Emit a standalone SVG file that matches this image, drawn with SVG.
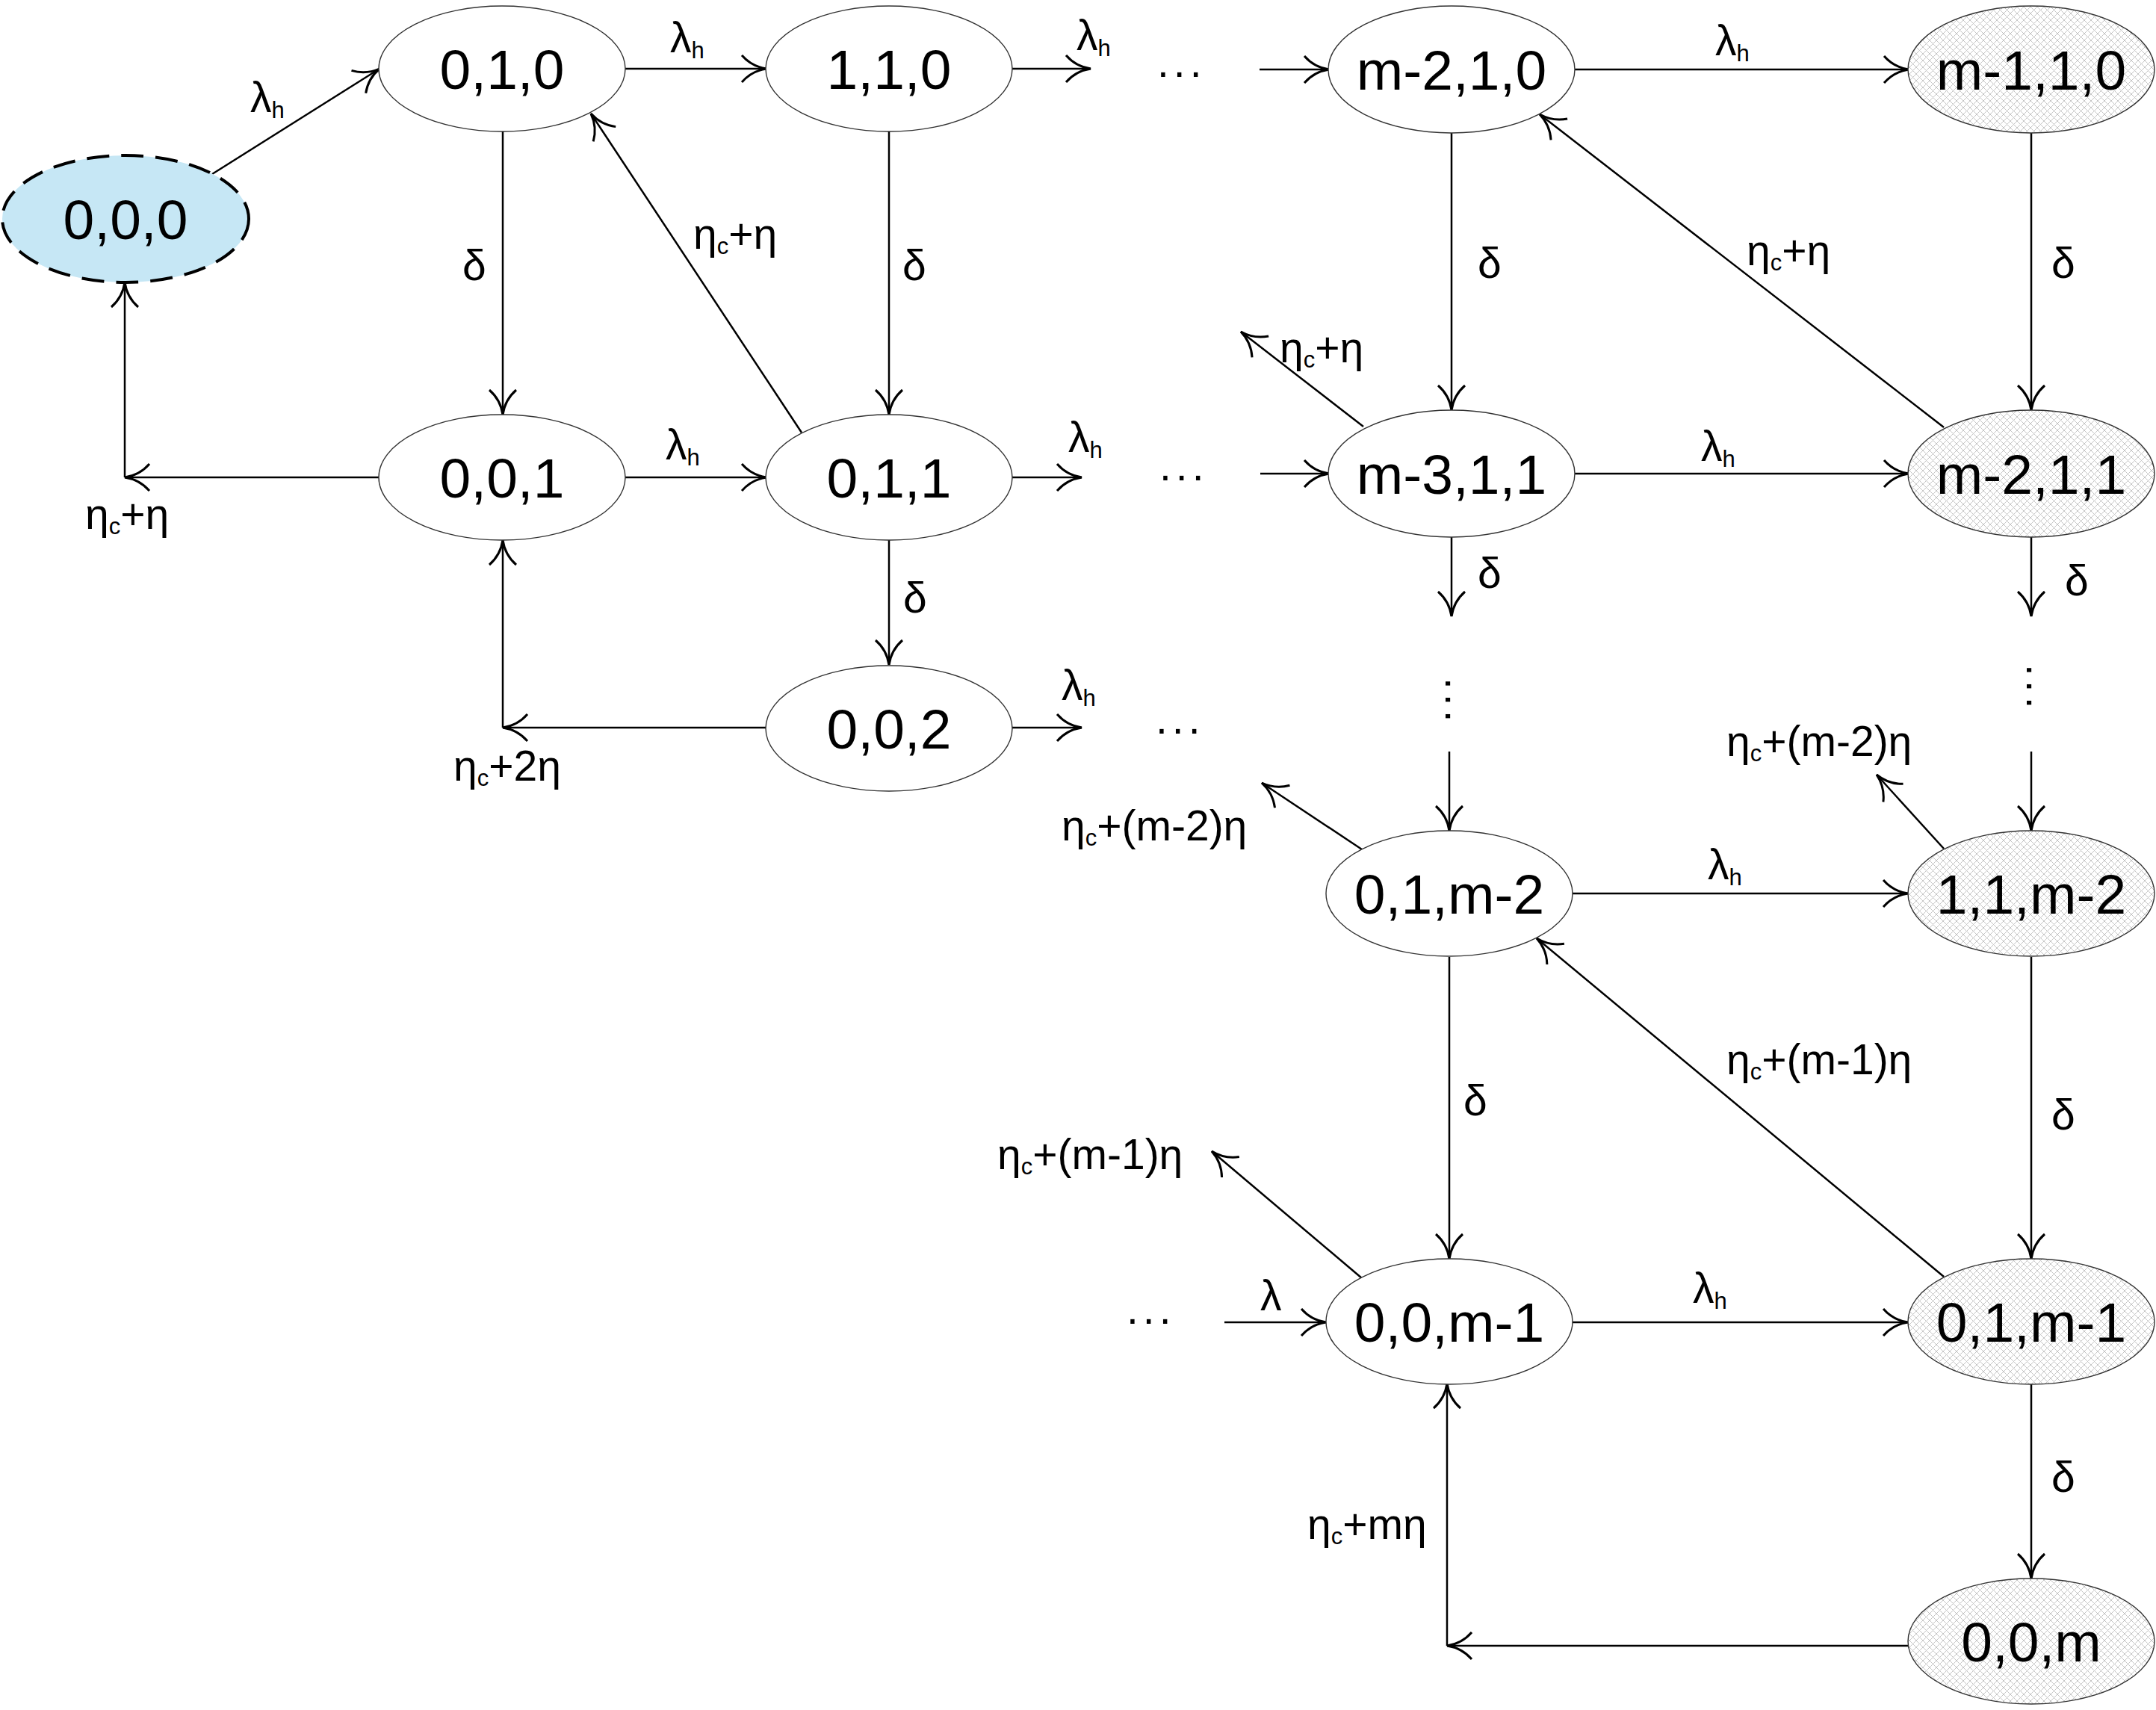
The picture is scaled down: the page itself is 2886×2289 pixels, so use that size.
<svg xmlns="http://www.w3.org/2000/svg" width="2886" height="2289" viewBox="0 0 2886 2289">
<style>
.nd{stroke:#333;stroke-width:1.4}
.w{fill:#fff}
.g{fill:url(#hatch)}
.n{font-family:"Liberation Sans",Arial,sans-serif;font-size:75px;text-anchor:middle;fill:#000}
.l{font-family:"Liberation Sans",Arial,sans-serif;font-size:57px;fill:#000}
.s{font-size:31px}
.d{letter-spacing:6px}
.e{stroke:#000;stroke-width:2.5;fill:none}
.a{marker-end:url(#ah)}
</style>
<defs>
<pattern id="hatch" patternUnits="userSpaceOnUse" width="9" height="9">
<rect width="9" height="9" fill="#fff"/>
<path d="M0,0 L9,9 M9,0 L0,9" stroke="#c4c4c4" stroke-width="1"/>
</pattern>
<marker id="ah" markerUnits="userSpaceOnUse" viewBox="-40 -25 45 50" refX="0" refY="0" markerWidth="45" markerHeight="50" orient="auto" overflow="visible">
<path d="M-33,-18 Q-20,-3 0,0 Q-20,3 -33,18" fill="none" stroke="#000" stroke-width="3"/>
</marker>
</defs>
<rect width="2886" height="2289" fill="#fff"/>

<g id="connectors">
<line class="e a" x1="284" y1="233" x2="508" y2="92"/>
<line class="e a" x1="837" y1="92" x2="1026" y2="92"/>
<line class="e a" x1="1355" y1="92" x2="1460" y2="92"/>
<line class="e a" x1="1686" y1="93" x2="1779" y2="93"/>
<line class="e a" x1="2108" y1="93" x2="2555" y2="93"/>
<line class="e a" x1="673" y1="176" x2="673" y2="555"/>
<line class="e a" x1="1190" y1="176" x2="1190" y2="555"/>
<line class="e a" x1="1943" y1="178" x2="1943" y2="549"/>
<line class="e a" x1="2719" y1="178" x2="2719" y2="549"/>
<line class="e a" x1="1073" y1="579" x2="791" y2="152"/>
<line class="e a" x1="2602" y1="572" x2="2061" y2="153"/>
<line class="e a" x1="1825" y1="571" x2="1661" y2="444"/>
<line class="e a" x1="507" y1="639" x2="167" y2="639"/>
<line class="e a" x1="167" y1="639" x2="167" y2="378"/>
<line class="e a" x1="837" y1="639" x2="1026" y2="639"/>
<line class="e a" x1="1355" y1="639" x2="1448" y2="639"/>
<line class="e a" x1="1687" y1="634" x2="1779" y2="634"/>
<line class="e a" x1="2107" y1="634" x2="2555" y2="634"/>
<line class="e a" x1="1190" y1="723" x2="1190" y2="890"/>
<line class="e a" x1="1026" y1="974" x2="673" y2="974"/>
<line class="e a" x1="673" y1="974" x2="673" y2="723"/>
<line class="e a" x1="1355" y1="974" x2="1448" y2="974"/>
<line class="e a" x1="1943" y1="718" x2="1943" y2="825"/>
<line class="e a" x1="2719" y1="718" x2="2719" y2="825"/>
<line class="e a" x1="1940" y1="1006" x2="1940" y2="1112"/>
<line class="e a" x1="2719" y1="1006" x2="2719" y2="1112"/>
<line class="e a" x1="1823" y1="1137" x2="1689" y2="1048"/>
<line class="e a" x1="2602" y1="1136" x2="2512" y2="1037"/>
<line class="e a" x1="2104" y1="1196" x2="2554" y2="1196"/>
<line class="e a" x1="1940" y1="1281" x2="1940" y2="1685"/>
<line class="e a" x1="2719" y1="1281" x2="2719" y2="1685"/>
<line class="e a" x1="2602" y1="1709" x2="2057" y2="1256"/>
<line class="e a" x1="1823" y1="1711" x2="1622" y2="1541"/>
<line class="e a" x1="1639" y1="1770" x2="1775" y2="1770"/>
<line class="e a" x1="2104" y1="1770" x2="2554" y2="1770"/>
<line class="e a" x1="2719" y1="1852" x2="2719" y2="2113"/>
<line class="e a" x1="2554" y1="2203" x2="1937" y2="2203"/>
<line class="e a" x1="1937" y1="2203" x2="1937" y2="1852"/>
</g>

<g id="edge-labels">
<text class="l" x="335" y="150">λ<tspan class="s" dy="8">h</tspan></text>
<text class="l" x="897" y="70">λ<tspan class="s" dy="8">h</tspan></text>
<text class="l" x="1441" y="67">λ<tspan class="s" dy="8">h</tspan></text>
<text class="l" x="2296" y="74">λ<tspan class="s" dy="8">h</tspan></text>
<text class="l" x="619" y="375">δ</text>
<text class="l" x="928" y="333">η<tspan class="s" dy="7">c</tspan><tspan dy="-7">+η</tspan></text>
<text class="l" x="1208" y="375">δ</text>
<text class="l" x="1978" y="372">δ</text>
<text class="l" x="2338" y="355">η<tspan class="s" dy="7">c</tspan><tspan dy="-7">+η</tspan></text>
<text class="l" x="2746" y="372">δ</text>
<text class="l" x="1713" y="485">η<tspan class="s" dy="7">c</tspan><tspan dy="-7">+η</tspan></text>
<text class="l" x="114" y="708">η<tspan class="s" dy="7">c</tspan><tspan dy="-7">+η</tspan></text>
<text class="l" x="891" y="615">λ<tspan class="s" dy="8">h</tspan></text>
<text class="l" x="1430" y="605">λ<tspan class="s" dy="8">h</tspan></text>
<text class="l" x="2277" y="617">λ<tspan class="s" dy="8">h</tspan></text>
<text class="l" x="1978" y="787">δ</text>
<text class="l" x="2764" y="797">δ</text>
<text class="l" x="1209" y="820">δ</text>
<text class="l" x="607" y="1045">η<tspan class="s" dy="7">c</tspan><tspan dy="-7">+2η</tspan></text>
<text class="l" x="1421" y="937">λ<tspan class="s" dy="8">h</tspan></text>
<text class="l" x="1421" y="1125">η<tspan class="s" dy="7">c</tspan><tspan dy="-7">+(m-2)η</tspan></text>
<text class="l" x="2311" y="1012">η<tspan class="s" dy="7">c</tspan><tspan dy="-7">+(m-2)η</tspan></text>
<text class="l" x="2286" y="1177">λ<tspan class="s" dy="8">h</tspan></text>
<text class="l" x="1959" y="1493">δ</text>
<text class="l" x="2311" y="1438">η<tspan class="s" dy="7">c</tspan><tspan dy="-7">+(m-1)η</tspan></text>
<text class="l" x="2746" y="1512">δ</text>
<text class="l" x="1335" y="1565">η<tspan class="s" dy="7">c</tspan><tspan dy="-7">+(m-1)η</tspan></text>
<text class="l" x="1687" y="1754">λ</text>
<text class="l" x="2266" y="1744">λ<tspan class="s" dy="8">h</tspan></text>
<text class="l" x="2746" y="1997">δ</text>
<text class="l" x="1750" y="2060">η<tspan class="s" dy="7">c</tspan><tspan dy="-7">+mη</tspan></text>
<text class="l d" x="1549" y="103">...</text>
<text class="l d" x="1552" y="643">...</text>
<text class="l d" x="1547" y="982">...</text>
<text class="l d" x="1508" y="1772">...</text>
<text class="l d" transform="translate(1935,907) rotate(90)">...</text>
<text class="l d" transform="translate(2713,889) rotate(90)">...</text>
</g>

<g id="n000"><ellipse cx="168" cy="293" rx="165" ry="85" fill="#c6e7f5" stroke="#000" stroke-width="4" stroke-dasharray="30,16"/><text class="n" x="168" y="320">0,0,0</text></g>
<g id="n010"><ellipse class="nd w" cx="672" cy="92" rx="165" ry="84"/><text class="n" x="672" y="119">0,1,0</text></g>
<g id="n110"><ellipse class="nd w" cx="1190" cy="92" rx="165" ry="84"/><text class="n" x="1190" y="119">1,1,0</text></g>
<g id="nm210"><ellipse class="nd w" cx="1943" cy="93" rx="165" ry="85"/><text class="n" x="1943" y="120">m-2,1,0</text></g>
<g id="nm110"><ellipse class="nd g" cx="2719" cy="93" rx="165" ry="85"/><text class="n" x="2719" y="120">m-1,1,0</text></g>
<g id="n001"><ellipse class="nd w" cx="672" cy="639" rx="165" ry="84"/><text class="n" x="672" y="666">0,0,1</text></g>
<g id="n011"><ellipse class="nd w" cx="1190" cy="639" rx="165" ry="84"/><text class="n" x="1190" y="666">0,1,1</text></g>
<g id="nm311"><ellipse class="nd w" cx="1943" cy="634" rx="165" ry="85"/><text class="n" x="1943" y="661">m-3,1,1</text></g>
<g id="nm211"><ellipse class="nd g" cx="2719" cy="634" rx="165" ry="85"/><text class="n" x="2719" y="661">m-2,1,1</text></g>
<g id="n002"><ellipse class="nd w" cx="1190" cy="975" rx="165" ry="84"/><text class="n" x="1190" y="1002">0,0,2</text></g>
<g id="n01m2"><ellipse class="nd w" cx="1940" cy="1196" rx="165" ry="84"/><text class="n" x="1940" y="1223">0,1,m-2</text></g>
<g id="n11m2"><ellipse class="nd g" cx="2719" cy="1196" rx="165" ry="84"/><text class="n" x="2719" y="1223">1,1,m-2</text></g>
<g id="n00m1"><ellipse class="nd w" cx="1940" cy="1769" rx="165" ry="84"/><text class="n" x="1940" y="1796">0,0,m-1</text></g>
<g id="n01m1"><ellipse class="nd g" cx="2719" cy="1769" rx="165" ry="84"/><text class="n" x="2719" y="1796">0,1,m-1</text></g>
<g id="n00m"><ellipse class="nd g" cx="2719" cy="2197" rx="165" ry="84"/><text class="n" x="2719" y="2224">0,0,m</text></g>
</svg>
